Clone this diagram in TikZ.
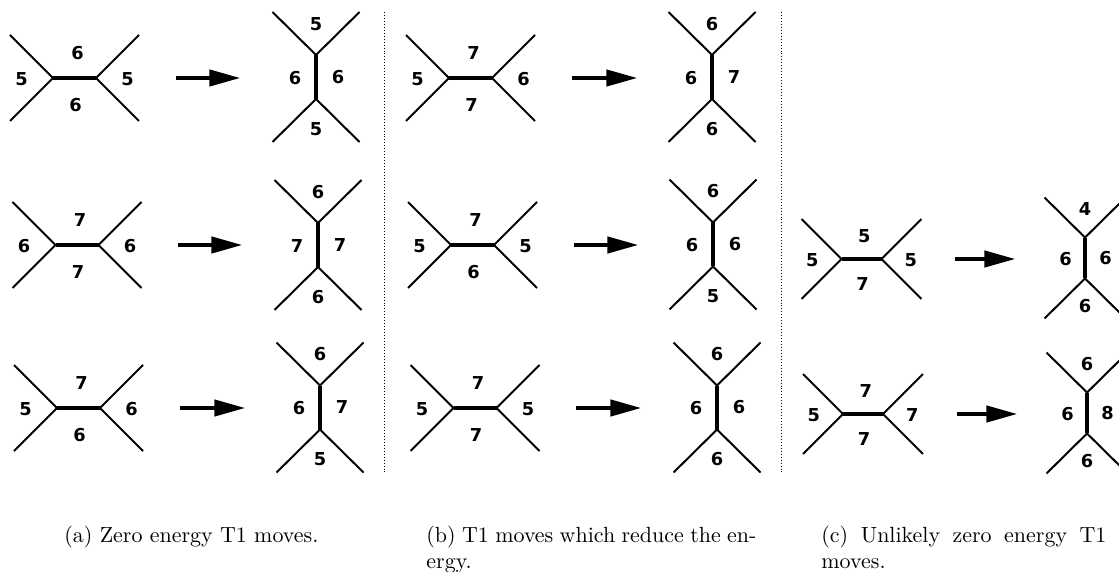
\documentclass[tikz,border=0pt]{standalone}
\usepackage{fontspec}
\newfontfamily\numfont{DejaVu Sans}
\usetikzlibrary{arrows.meta}

\newlength\pxu
\setlength\pxu{0.016cm}

% edge lying flat: name, centre, top, bottom, left, right
\newcommand{\flatcell}[7][]{%
	\begin{scope}[shift={#3},#1]
		\coordinate (#2-w) at (-21.5,0);
		\coordinate (#2-e) at (21.5,0);
		\coordinate (#2-wn) at (-64.5,-43);
		\coordinate (#2-ws) at (-64.5,43);
		\coordinate (#2-en) at (64.5,-43);
		\coordinate (#2-es) at (64.5,43);
		\draw[spoke] (#2-w) -- (#2-wn);
		\draw[spoke] (#2-w) -- (#2-ws);
		\draw[spoke] (#2-e) -- (#2-en);
		\draw[spoke] (#2-e) -- (#2-es);
		\draw[bond] (#2-w) -- (#2-e);
		\node[count] (#2-t) at (3,-25) {#4};
		\node[count] (#2-b) at (1,27) {#5};
		\node[count] (#2-l) at (-53,1) {#6};
		\node[count] (#2-r) at (53,1) {#7};
	\end{scope}}

% edge standing upright: name, centre, top, bottom, left, right
\newcommand{\uprightcell}[7][]{%
	\begin{scope}[shift={#3},#1]
		\coordinate (#2-n) at (0,-22);
		\coordinate (#2-s) at (0,22);
		\coordinate (#2-nw) at (-43.5,-65);
		\coordinate (#2-ne) at (43.5,-65);
		\coordinate (#2-sw) at (-43.5,65);
		\coordinate (#2-se) at (43.5,65);
		\draw[spoke] (#2-n) -- (#2-nw);
		\draw[spoke] (#2-n) -- (#2-ne);
		\draw[spoke] (#2-s) -- (#2-sw);
		\draw[spoke] (#2-s) -- (#2-se);
		\draw[bond] (#2-n) -- (#2-s);
		\node[count] (#2-t) at (0,-53) {#4};
		\node[count] (#2-b) at (0,52) {#5};
		\node[count] (#2-l) at (-21,1) {#6};
		\node[count] (#2-r) at (22,0) {#7};
	\end{scope}}

% arrow between the two cells: name, y, from x, to x
\newcommand{\move}[4]{%
	\coordinate (#1-s) at (#3,#2);
	\coordinate (#1-e) at (#4,#2);
	\draw[movearrow] (#1-s) -- (#1-e);}

\begin{document}
\begin{tikzpicture}[
		x=\pxu,y=-\pxu,
		spoke/.style={line width=0.9pt},
		bond/.style={line width=1.4pt},
		movearrow/.style={line width=1.4pt,-{Triangle[length=14pt,width=7.5pt]}},
		count/.style={inner sep=0pt,font=\numfont\bfseries\fontsize{8.1}{10}\selectfont},
		sepline/.style={line width=0.45pt,dash pattern=on 0.45pt off 0.9pt},
		caption/.style={inner sep=0pt,anchor=base west,font=\fontsize{10}{12}\selectfont}
	]
	\useasboundingbox (0,0) rectangle (1119,572);

	% (a)
	\flatcell{a1h}{(74.5,78)}{6}{6}{5}{5}
	\move{a1m}{78}{176}{240}
	\uprightcell{a1v}{(316,77)}{5}{5}{6}{6}
	\flatcell{a2h}{(77,245)}{7}{7}{6}{6}
	\move{a2m}{245}{178}{242}
	\uprightcell{a2v}{(318,245)}{6}{6}{7}{7}
	\flatcell{a3h}{(78.5,408)}{7}{6}{5}{6}
	\move{a3m}{408}{180}{245}
	\uprightcell{a3v}{(320,407.5)}{6}{5}{6}{7}

	% (b)
	\flatcell{b1h}{(470.5,78)}{7}{7}{5}{6}
	\move{b1m}{78}{572}{637}
	\uprightcell{b1v}{(712,77)}{6}{6}{6}{7}
	\flatcell{b2h}{(472.5,245)}{7}{6}{5}{5}
	\move{b2m}{245}{574}{638}
	\uprightcell{b2v}{(713,244.5)}{6}{5}{6}{6}
	\flatcell{b3h}{(475,408)}{7}{7}{5}{5}
	\move{b3m}{408}{576}{641}
	\uprightcell{b3v}{(717,407.5)}{6}{6}{6}{6}

	% (c)
	\flatcell[scale=0.93]{c1h}{(861.5,259)}{5}{7}{5}{5}
	\move{c1m}{259}{955}{1015}
	\uprightcell[scale=0.93]{c1v}{(1085,258)}{4}{6}{6}{6}
	\flatcell[scale=0.93]{c2h}{(863,414)}{7}{7}{5}{7}
	\move{c2m}{414}{957}{1017}
	\uprightcell[scale=0.93]{c2v}{(1087,413)}{6}{6}{6}{8}

	% separators
	\coordinate (s1t) at (384,12);
	\coordinate (s1b) at (384,473);
	\coordinate (s2t) at (781,12);
	\coordinate (s2b) at (781,473);
	\draw[sepline] (s1t) -- (s1b);
	\draw[sepline] (s2t) -- (s2b);

	% captions
	\node[caption] (capa) at (64,542) {(a) Zero energy T1 moves.};
	\node[caption] (capb) at (426,542) {\parbox[t]{330\pxu}{\makebox[\linewidth][s]{(b) T1 moves which reduce the en-}\\ergy.}};
	\node[caption] (capc) at (821,542) {\parbox[t]{285\pxu}{\makebox[\linewidth][s]{(c) Unlikely zero energy T1}\\moves.}};
\end{tikzpicture}
\end{document}
